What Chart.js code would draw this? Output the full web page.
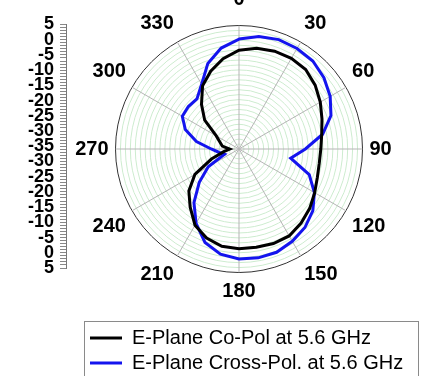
<!DOCTYPE html>
<html>
<head>
<meta charset="utf-8">
<script src="https://cdn.jsdelivr.net/npm/chart.js@4.4.1/dist/chart.umd.min.js"></script>
<style>
  html, body { margin: 0; padding: 0; background: #fff; }
  #wrap { position: relative; width: 426px; height: 376px; overflow: hidden; }
  /* polar canvas starts 20px above the page so the "0" label is cut like in the figure */
  #polar { position: absolute; left: 0; top: -20px; }
  #ruler { position: absolute; left: 0; top: 0; }
</style>
</head>
<body>
<div id="wrap">
  <canvas id="polar" width="426" height="396"></canvas>
  <canvas id="ruler" width="140" height="300"></canvas>
</div>
<script>
// angles in degrees, clockwise from top
const angles = [0, 10, 20, 30, 40, 50, 60, 70, 80, 90, 100, 110, 120, 130, 140, 150, 160, 170,
  180, 190, 200, 210, 220, 230, 240, 250, 260, 270, 280, 290, 300, 310, 320, 330, 340, 350];

// dB values
const coPol = [-3.0, -1.9, -1.3, -1.1, -1.4, -2.8, -4.6, -6.4, -7.8, -8.5, -8.6, -8.0,
  -6.7, -5.1, -3.7, -2.5, -2.4, -2.7, -2.7, -3.0, -4.3, -6.5, -10.4, -13.8,
  -18.5, -25.5, -30.0, -32.0, -29.5, -28.4, -26.5, -20.5, -16.1, -11.4, -8.2, -5.3];
const crossPol = [0.6, 2.0, 2.7, 2.6, 2.2, 0.9, -0.9, -3.3, -7.5, -13.5, -18.0, -10.8,
  -6.8, -3.8, -1.8, -0.5, 0.6, 0.8, 0.6, -0.4, -2.8, -7.2, -12.3, -18.2,
  -23.5, -30.0, -28.5, -26.0, -21.0, -16.5, -13.8, -13.6, -13.8, -10.8, -5.5, -1.8];

const seriesNames = ['E-Plane Co-Pol at 5.6 GHz', 'E-Plane Cross-Pol. at 5.6 GHz'];

const rMin = -35, rMax = 5;
const rulerMin = -40, rulerMax = 40;   // folded ruler: label = |v| + rMin

const FONT = 'Liberation Sans, Arial, Helvetica, sans-serif';

// put the legend in its box under the plot
const legendBox = {
  id: 'legendBox',
  afterLayout(chart) {
    const lg = chart.legend;
    lg.left = 85; lg.right = 418; lg.width = 333;
    lg.top = 343; lg.bottom = 396; lg.height = 53;
  },
  afterDraw(chart) {
    const ctx = chart.ctx;
    ctx.save();
    ctx.strokeStyle = '#8a8a8a';
    ctx.lineWidth = 1;
    ctx.strokeRect(84.5, 341.5, 334, 60);
    ctx.restore();
  }
};

new Chart(document.getElementById('polar'), {
  type: 'radar',
  data: {
    labels: angles,
    datasets: [{
      label: seriesNames[0],
      data: coPol,
      borderColor: '#000000',
      backgroundColor: '#000000',
      borderWidth: 3
    }, {
      label: seriesNames[1],
      data: crossPol,
      borderColor: '#1414ee',
      backgroundColor: '#1414ee',
      borderWidth: 3
    }]
  },
  options: {
    responsive: false,
    animation: false,
    layout: { padding: { left: 69, right: 27, top: 3.5, bottom: 8.5 } },
    elements: {
      line: { tension: 0, fill: false },
      point: { radius: 0, hoverRadius: 0 }
    },
    plugins: {
      tooltip: { enabled: false },
      legend: {
        position: 'bottom',
        align: 'start',
        labels: {
          usePointStyle: true,
          pointStyle: 'line',
          pointStyleWidth: 32,
          padding: 5,
          color: '#000',
          font: { family: FONT, size: 20 }
        }
      }
    },
    scales: {
      r: {
        min: rMin,
        max: rMax,
        beginAtZero: false,
        ticks: { display: false, stepSize: 1.6 },
        grid: {
          circular: true,
          color: (c) => (c.tick && c.tick.value >= rMax - 0.01) ? '#333333' : '#cdeccf',
          lineWidth: 1
        },
        angleLines: {
          color: (c) => c.index % 3 === 0 ? '#b5b5b5' : 'rgba(0,0,0,0)',
          lineWidth: 1
        },
        pointLabels: {
          callback: (label) => label % 30 === 0 ? String(label) : '',
          color: '#000',
          padding: (c) => c.index === 0 ? 14 : 7,
          font: { family: FONT, size: 20, weight: 'bold' }
        }
      }
    }
  },
  plugins: [legendBox]
});

// dB ruler on the left
new Chart(document.getElementById('ruler'), {
  type: 'scatter',
  data: { datasets: [] },
  options: {
    responsive: false,
    animation: false,
    layout: { padding: { left: 22, right: 20, top: 24.5, bottom: 32 } },
    plugins: { legend: { display: false }, tooltip: { enabled: false } },
    scales: {
      x: { display: false, min: 0, max: 1 },
      y: {
        min: rulerMin,
        max: rulerMax,
        border: { display: true, color: '#777' },
        grid: { drawOnChartArea: false, drawTicks: true, tickLength: 6, color: '#888' },
        ticks: {
          stepSize: 1,
          autoSkip: false,
          padding: 6,
          color: '#000',
          font: { family: FONT, size: 18, weight: 'bold' },
          callback: (v) => v % 5 === 0 ? String(Math.abs(v) + rMin) : ''
        }
      }
    }
  }
});
</script>
</body>
</html>
